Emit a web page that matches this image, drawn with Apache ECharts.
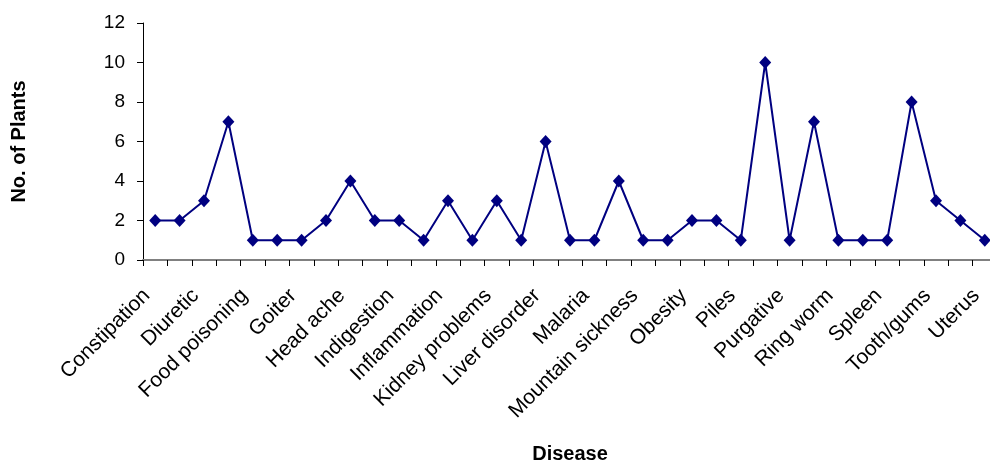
<!DOCTYPE html>
<html>
<head>
<meta charset="utf-8">
<script src="https://cdn.jsdelivr.net/npm/echarts@6/dist/echarts.min.js"></script>
<style>html,body{margin:0;padding:0;background:#fff}#c{width:990px;height:461px}</style>
</head>
<body>
<div id="c"></div>
<script>
const categories = [
  "Constipation","Cough","Diuretic","Dysentery","Food poisoning","Fever","Goiter","Gout",
  "Head ache","Hepatitis","Indigestion","Infection","Inflammation","Jaundice","Kidney problems",
  "Leprosy","Liver disorder","Lung problems","Malaria","Menstrual disorder","Mountain sickness",
  "Nausea","Obesity","Pain","Piles","Pneumonia","Purgative","Rheumatism","Ring worm",
  "Skin disease","Spleen","Stomach ache","Tooth/gums","Urinary problems","Uterus"
];
const plants = [2,2,3,7,1,1,1,2,4,2,2,1,3,1,3,1,6,1,1,4,1,1,2,2,1,10,1,7,1,1,1,8,3,2,1];
const yTicks = [0,2,4,6,8,10,12];

const chart = echarts.init(document.getElementById('c'));
const font = 'Liberation Sans, Arial, sans-serif';
chart.setOption({
  animation: false,
  grid: {left: 143, top: 23, right: -7, bottom: 201, containLabel: false, outerBoundsMode: 'none'},
  xAxis: {
    type: 'category',
    data: categories,
    boundaryGap: true,
    name: 'Disease',
    nameLocation: 'middle',
    nameGap: 184,
    nameTextStyle: {fontFamily: font, fontSize: 20, fontWeight: 'bold', color: '#000'},
    axisLine: {lineStyle: {color: '#808080', width: 2}},
    axisTick: {show: true, alignWithLabel: false, interval: 0, length: 6, lineStyle: {color: '#000', width: 1}},
    axisLabel: {interval: 1, rotate: 45, margin: 24, padding: [0, 12, 0, 0], fontFamily: font, fontSize: 21, color: '#000'},
    splitLine: {show: false}
  },
  yAxis: {
    type: 'value',
    min: yTicks[0],
    max: yTicks[yTicks.length - 1],
    interval: 2,
    name: 'No. of Plants',
    nameLocation: 'middle',
    nameGap: 114,
    nameRotate: 90,
    nameTextStyle: {fontFamily: font, fontSize: 20, fontWeight: 'bold', color: '#000'},
    axisLine: {show: true, lineStyle: {color: '#000', width: 1}},
    axisTick: {show: true, length: 6, lineStyle: {color: '#000'}},
    axisLabel: {margin: 18, fontFamily: font, fontSize: 19, color: '#000'},
    splitLine: {show: false}
  },
  series: [{
    type: 'line',
    data: plants,
    symbol: 'diamond',
    symbolSize: [12, 13],
    itemStyle: {color: '#000080'},
    lineStyle: {color: '#000080', width: 2},
    clip: false
  }]
});
</script>
</body>
</html>
